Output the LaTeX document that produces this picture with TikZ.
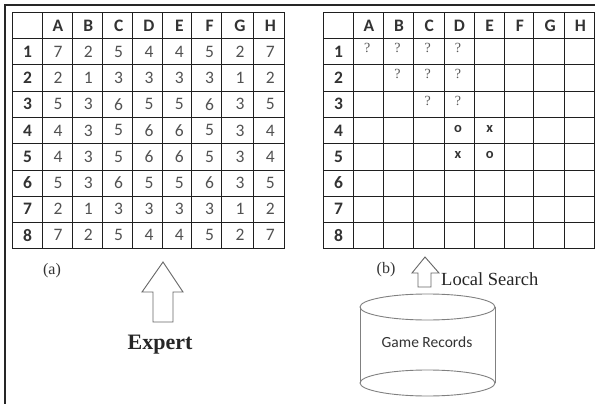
\documentclass[tikz,border=0pt]{standalone}
\usepackage{fontspec}
\setmainfont{Liberation Serif}
\newfontfamily\calib{Carlito}
\begin{document}
\begin{tikzpicture}[x=1pt,y=-1pt,
  gridline/.style={draw=black!88, line width=1.7pt},
  hdr/.style={font=\calib\bfseries\fontsize{17.5}{17.5}\selectfont, text=black!80, inner sep=0pt},
  num/.style={font=\calib\fontsize{17.5}{17.5}\selectfont, text=black!68, inner sep=0pt},
  qmark/.style={font=\fontsize{14}{14}\selectfont, text=black!65, inner sep=0pt},
  ox/.style={font=\calib\bfseries\fontsize{14.5}{14.5}\selectfont, text=black!80, inner sep=0pt},
  blockarrow/.style={draw=black!60, line width=0.9pt, fill=white},
  cyl/.style={draw=black!50, line width=0.9pt},
  serifcap/.style={font=\fontsize{16}{16}\selectfont, text=black!80, inner sep=0pt}]
\useasboundingbox (0,0) rectangle (595,404);
\fill[white] (0,0) rectangle (595,404);
% frame
\draw[line width=1.5pt, black!85] (5,404) -- (5,5) -- (595,5);
% ---------- left grid ----------
\def\LX{12.5}\def\W{30.33}\def\TY{12.5}\def\H{26.2}
\foreach \x in {12.5,42.5,72.5,102.5,132.5,162.5,191.5,221.5,253.5,284.5}
  \draw[gridline] (\x,12.5) -- (\x,248.5);
\foreach \y in {12.5,38.5,64.5,91.5,117.5,143.5,170.5,196.5,222.5,248.5}
  \draw[gridline] (12.5,\y) -- (284.5,\y);
\foreach \l [count=\c] in {A,B,C,D,E,F,G,H}
  \node[hdr] (LH\c) at (\LX+\c*\W+0.5*\W,\TY+0.5*\H) {\l};
\foreach \r in {1,...,8}
  \node[hdr] (LR\r) at (\LX+0.5*\W,\TY+\r*\H+0.5*\H) {\r};
\foreach \row [count=\r] in {{7,2,5,4,4,5,2,7},{2,1,3,3,3,3,1,2},{5,3,6,5,5,6,3,5},{4,3,5,6,6,5,3,4},{4,3,5,6,6,5,3,4},{5,3,6,5,5,6,3,5},{2,1,3,3,3,3,1,2},{7,2,5,4,4,5,2,7}}
  \foreach \v [count=\c] in \row
    \node[num] (L\r-\c) at (\LX+\c*\W+0.5*\W,\TY+\r*\H+0.5*\H) {\v};
% ---------- right grid ----------
\def\RX{323.5}\def\RW{30.22}
\foreach \x in {323.5,353.5,383.5,413.5,444.5,474.5,504.5,533.5,564.5,594.5}
  \draw[gridline] (\x,12.5) -- (\x,248.5);
\foreach \y in {12.5,38.5,64.5,91.5,117.5,143.5,170.5,196.5,222.5,248.5}
  \draw[gridline] (323.5,\y) -- (594.5,\y);
\foreach \l [count=\c] in {A,B,C,D,E,F,G,H}
  \node[hdr] (RH\c) at (\RX+\c*\RW+0.5*\RW,\TY+0.5*\H) {\l};
\foreach \r in {1,...,8}
  \node[hdr] (RR\r) at (\RX+0.5*\RW,\TY+\r*\H+0.5*\H) {\r};
\foreach \r/\c in {1/1,1/2,1/3,1/4,2/2,2/3,2/4,3/3,3/4}
  \node[qmark] (Q\r-\c) at (\RX+\c*\RW+0.45*\RW,\TY+\r*\H+0.36*\H) {?};
\node[ox] (O44) at (\RX+4*\RW+0.45*\RW,\TY+4*\H+0.45*\H) {o};
\node[ox] (X45) at (\RX+5*\RW+0.5*\RW,\TY+4*\H+0.45*\H) {x};
\node[ox] (X54) at (\RX+4*\RW+0.45*\RW,\TY+5*\H+0.45*\H) {x};
\node[ox] (O55) at (\RX+5*\RW+0.5*\RW,\TY+5*\H+0.45*\H) {o};
% ---------- captions ----------
\node[serifcap] (capa) at (52,271) {(a)};
\node[serifcap] (capb) at (386,270) {(b)};
% expert arrow
\draw[blockarrow] (163,262) -- (183,292) -- (173,292) -- (173,322) -- (153,322) -- (153,292) -- (142,292) -- cycle;
\node[font=\bfseries\fontsize{22}{22}\selectfont, text=black!85, inner sep=0pt] (expert) at (160,345) {Expert};
% local search arrow
\draw[blockarrow] (425,257) -- (439,273) -- (431,273) -- (431,287) -- (418,287) -- (418,273) -- (412,273) -- cycle;
\node[font=\fontsize{18.5}{18.5}\selectfont, text=black!85, inner sep=0pt, anchor=base west] (local) at (441,285) {Local Search};
% cylinder
\draw[cyl] (427.5,307) ellipse [x radius=67.5, y radius=13];
\draw[cyl] (427.5,383) ellipse [x radius=67.5, y radius=13];
\draw[cyl] (360,307) -- (360,383);
\draw[cyl] (495,307) -- (495,383);
\node[font=\calib\fontsize{15.5}{15.5}\selectfont, text=black!80, inner sep=0pt] (records) at (427,342) {Game Records};
\end{tikzpicture}
\end{document}
